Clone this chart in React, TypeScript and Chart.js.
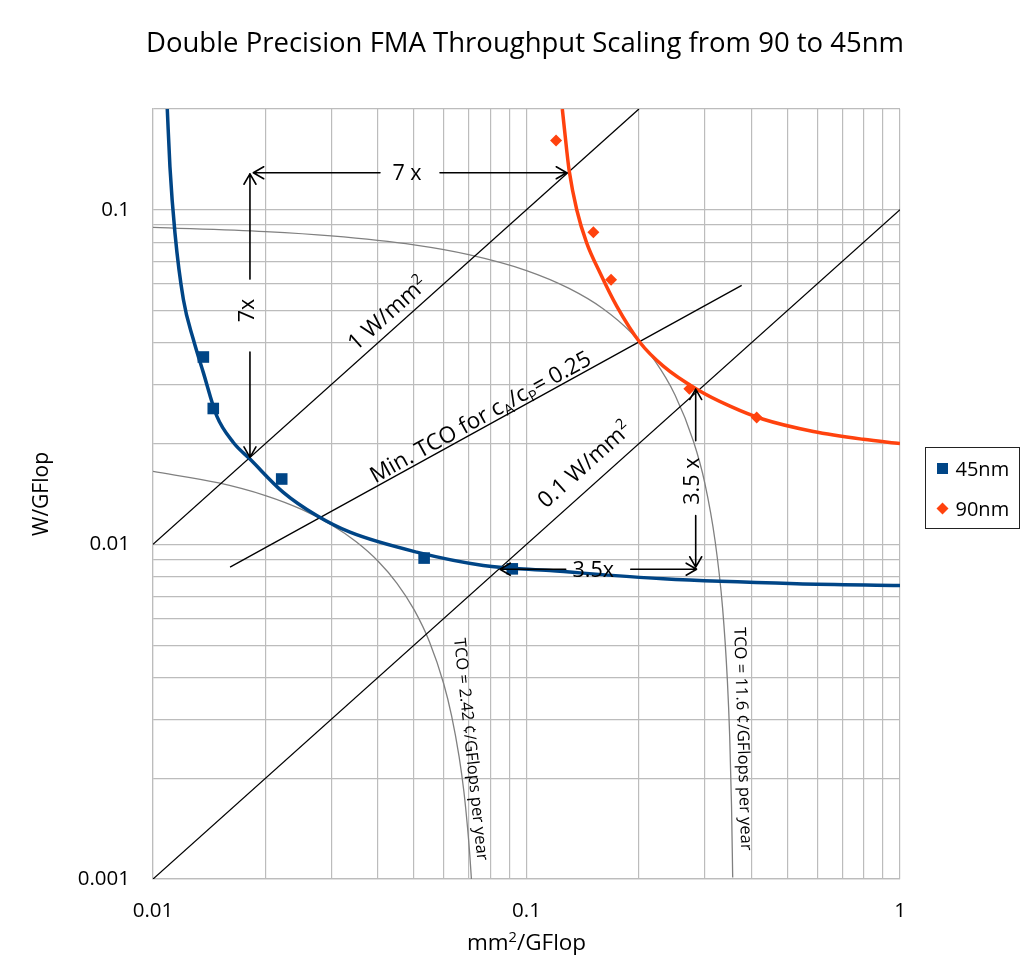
import React, { useEffect, useRef } from 'react';
import { Chart, registerables } from 'chart.js';

Chart.register(...registerables);

const FONT = '"Open Sans", sans-serif';
const BLUE = '#004586';
const ORANGE = '#ff420e';
const GRID = '#bcbcbc';
const GRAY = '#808080';

// Axis ranges, labelled ticks and minor grid steps (log axes)
const xRange = [0.01, 1];
const yRange = [0.001, 0.2];
const xTickValues = [0.01, 0.1, 1];
const xTickLabels = ['0.01', '0.1', '1'];
const yTickValues = [0.001, 0.01, 0.1];
const yTickLabels = ['0.001', '0.01', '0.1'];
const gridSteps = [1, 2, 3, 4, 5, 6, 7, 8, 9];

// Measured designs (mm^2/GFlop, W/GFlop)
const pts45X = [0.01364, 0.0145, 0.02211, 0.0532, 0.0916];
const pts45Y = [0.0363, 0.02547, 0.01568, 0.0091, 0.00845];
const pts90X = [0.12, 0.151, 0.1684, 0.2729, 0.4133];
const pts90Y = [0.1609, 0.0856, 0.0618, 0.0292, 0.02393];

// Pareto trend curves
const fit45X = [0.01092, 0.0111, 0.01145, 0.01206, 0.01282, 0.01364, 0.01481, 0.01641, 0.01818, 0.02233, 0.02743, 0.03368, 0.0508, 0.0766, 0.1156, 0.2324, 0.529, 1];
const fit45Y = [0.2, 0.1346, 0.0852, 0.0539, 0.041, 0.0326, 0.0242, 0.02016, 0.01799, 0.0143, 0.01219, 0.01087, 0.00948, 0.00865, 0.00835, 0.00789, 0.00763, 0.00754];
const fit90X = [0.1247, 0.1281, 0.1302, 0.1363, 0.1449, 0.1573, 0.1744, 0.2013, 0.2324, 0.2856, 0.3506, 0.4305, 0.5861, 0.7974, 1];
const fit90Y = [0.2, 0.151, 0.13, 0.1, 0.0796, 0.0648, 0.0515, 0.0401, 0.0341, 0.0291, 0.0259, 0.02366, 0.02175, 0.0206, 0.02];

// Iso-TCO curves
const tcoHighX = [0.01, 0.02, 0.03, 0.05, 0.07, 0.1, 0.13, 0.16, 0.19, 0.22, 0.25, 0.28, 0.3, 0.32, 0.335, 0.345, 0.35, 0.354, 0.3565];
const tcoHighY = [0.0886, 0.086, 0.0835, 0.0785, 0.0734, 0.0658, 0.0582, 0.0507, 0.0431, 0.0355, 0.0279, 0.0203, 0.0153, 0.0102, 0.00645, 0.00392, 0.00266, 0.00164, 0.00101];
const tcoLowX = [0.01, 0.015, 0.02, 0.025, 0.03, 0.035, 0.04, 0.045, 0.05, 0.055, 0.06, 0.063, 0.066, 0.068, 0.0695, 0.0705, 0.0712];
const tcoLowY = [0.01652, 0.01526, 0.01399, 0.01272, 0.01145, 0.01018, 0.00892, 0.00765, 0.00638, 0.00511, 0.00384, 0.00308, 0.00232, 0.00182, 0.00143, 0.00118, 0.001];

// Power-density and minimum-TCO lines
const w1X = [0.01, 0.2];
const w1Y = [0.01, 0.2];
const w01X = [0.01, 1];
const w01Y = [0.001, 0.1];
const minTcoX = [0.01608, 0.3768];
const minTcoY = [0.00855, 0.0594];

// Ratio arrows: endpoints in data units
const arrows = [
  { from: [0.01856, 0.129], to: [0.1281, 0.129], label: '7 x', gap: 60, vertical: false, dx: -3, dy: 0 },
  { from: [0.01818, 0.0182], to: [0.01818, 0.128], label: '7x', gap: 73, vertical: true, dx: -4, dy: -5 },
  { from: [0.0849, 0.00843], to: [0.2853, 0.00843], label: '3.5x', gap: 65, vertical: false, dx: -5, dy: 0 },
  { from: [0.2838, 0.00855], to: [0.2838, 0.0291], label: '3.5 x', gap: 75, vertical: true, dx: -4, dy: 3 },
];

type Part = { t: string; sub?: boolean; sup?: boolean };

// Text placed along the lines: centre in data units, angle in degrees
const lineLabels: { parts: Part[]; x: number; y: number; angle: number; size: number }[] = [
  { parts: [{ t: '1 W/mm' }, { t: '2', sup: true }], x: 0.0423, y: 0.0492, angle: -41.9, size: 22.5 },
  { parts: [{ t: 'Min. TCO for c' }, { t: 'A', sub: true }, { t: '/c' }, { t: 'P', sub: true }, { t: '= 0.25' }], x: 0.0751, y: 0.02415, angle: -28.9, size: 22.5 },
  { parts: [{ t: '0.1 W/mm' }, { t: '2', sup: true }], x: 0.1426, y: 0.01738, angle: -41.9, size: 22.5 },
  { parts: [{ t: 'TCO = 2.42 ¢/GFlops per year' }], x: 0.0713, y: 0.002444, angle: 84, size: 16.5 },
  { parts: [{ t: 'TCO = 11.6 ¢/GFlops per year' }], x: 0.3815, y: 0.002623, angle: 88.2, size: 16.5 },
];

const title = 'Double Precision FMA Throughput Scaling from 90 to 45nm';
const yTitle = 'W/GFlop';
const xTitleParts: Part[] = [{ t: 'mm' }, { t: '2', sup: true }, { t: '/GFlop' }];
const legendItems = [
  { label: '45nm', color: BLUE, shape: 'square' },
  { label: '90nm', color: ORANGE, shape: 'diamond' },
];

const toPts = (xs: number[], ys: number[]) => xs.map((x, i) => ({ x, y: ys[i] }));

function logGrid(min: number, max: number) {
  const out: number[] = [];
  for (let e = Math.floor(Math.log10(min)); e <= Math.ceil(Math.log10(max)); e++) {
    for (const s of gridSteps) {
      const v = parseFloat((s * Math.pow(10, e)).toPrecision(6));
      if (v >= min * 0.9999 && v <= max * 1.0001) out.push(v);
    }
  }
  if (out[out.length - 1] < max * 0.9999) out.push(max);
  return out;
}

function labelFor(values: number[], labels: string[]) {
  return (v: any) => {
    const i = values.findIndex((t) => Math.abs(t - Number(v)) / t < 1e-6);
    return i >= 0 ? labels[i] : '';
  };
}

function drawRich(ctx: CanvasRenderingContext2D, parts: Part[], cx: number, cy: number, angleDeg: number, size: number) {
  ctx.save();
  ctx.translate(cx, cy);
  ctx.rotate((angleDeg * Math.PI) / 180);
  ctx.fillStyle = '#000';
  ctx.textBaseline = 'alphabetic';
  ctx.textAlign = 'left';
  const small = size * 0.65;
  let total = 0;
  const widths = parts.map((p) => {
    ctx.font = `${p.sub || p.sup ? small : size}px ${FONT}`;
    const w = ctx.measureText(p.t).width;
    total += w;
    return w;
  });
  let x = -total / 2;
  const base = size * 0.36;
  parts.forEach((p, i) => {
    ctx.font = `${p.sub || p.sup ? small : size}px ${FONT}`;
    const off = p.sup ? -size * 0.38 : p.sub ? size * 0.2 : 0;
    ctx.fillText(p.t, x, base + off);
    x += widths[i];
  });
  ctx.restore();
}

function arrowHead(ctx: CanvasRenderingContext2D, tx: number, ty: number, ux: number, uy: number) {
  const L = 12;
  const back = Math.atan2(uy, ux) + Math.PI;
  for (const s of [-1, 1]) {
    const a = back + (s * Math.PI) / 6;
    ctx.moveTo(tx, ty);
    ctx.lineTo(tx + L * Math.cos(a), ty + L * Math.sin(a));
  }
}

const overlayPlugin = {
  id: 'overlay',
  afterDatasetsDraw(chart: any) {
    const { ctx, scales } = chart;
    const px = (v: number) => scales.x.getPixelForValue(v);
    const py = (v: number) => scales.y.getPixelForValue(v);

    for (const lab of lineLabels) {
      drawRich(ctx, lab.parts, px(lab.x), py(lab.y), lab.angle, lab.size);
    }

    ctx.save();
    ctx.strokeStyle = '#000';
    ctx.lineWidth = 1.6;
    ctx.lineCap = 'round';
    for (const a of arrows) {
      const x0 = px(a.from[0]), y0 = py(a.from[1]);
      const x1 = px(a.to[0]), y1 = py(a.to[1]);
      const dx = x1 - x0, dy = y1 - y0;
      const len = Math.hypot(dx, dy);
      const ux = dx / len, uy = dy / len;
      const mx = (x0 + x1) / 2, my = (y0 + y1) / 2;
      ctx.beginPath();
      ctx.moveTo(x0, y0);
      ctx.lineTo(mx - (ux * a.gap) / 2, my - (uy * a.gap) / 2);
      ctx.moveTo(mx + (ux * a.gap) / 2, my + (uy * a.gap) / 2);
      ctx.lineTo(x1, y1);
      arrowHead(ctx, x0, y0, -ux, -uy);
      arrowHead(ctx, x1, y1, ux, uy);
      ctx.stroke();
      drawRich(ctx, [{ t: a.label }], mx + a.dx, my + a.dy, a.vertical ? -90 : 0, 21.5);
    }
    ctx.restore();
  },
  afterDraw(chart: any) {
    const { ctx, chartArea } = chart;
    ctx.save();
    // chart title
    ctx.fillStyle = '#000';
    ctx.font = `27.5px ${FONT}`;
    ctx.textAlign = 'center';
    ctx.textBaseline = 'alphabetic';
    ctx.fillText(title, 525, 52);
    // axis titles
    ctx.save();
    ctx.translate(42, (chartArea.top + chartArea.bottom) / 2);
    ctx.rotate(-Math.PI / 2);
    ctx.font = `21px ${FONT}`;
    ctx.textBaseline = 'middle';
    ctx.fillText(yTitle, 0, 0);
    ctx.restore();
    drawRich(ctx, xTitleParts, (chartArea.left + chartArea.right) / 2, 942, 0, 22.5);

    // legend
    const lx = chartArea.right + 25.5;
    const ly = 447.5;
    ctx.strokeStyle = '#222';
    ctx.lineWidth = 1;
    ctx.strokeRect(lx, ly, 94, 81);
    legendItems.forEach((it, i) => {
      const cy = ly + 21 + i * 40;
      const mx = lx + 17;
      ctx.fillStyle = it.color;
      ctx.beginPath();
      if (it.shape === 'square') {
        ctx.rect(mx - 5.5, cy - 5.5, 11, 11);
      } else {
        ctx.moveTo(mx, cy - 6);
        ctx.lineTo(mx + 6, cy);
        ctx.lineTo(mx, cy + 6);
        ctx.lineTo(mx - 6, cy);
        ctx.closePath();
      }
      ctx.fill();
      ctx.fillStyle = '#000';
      ctx.font = `20px ${FONT}`;
      ctx.textAlign = 'left';
      ctx.textBaseline = 'alphabetic';
      ctx.fillText(it.label, lx + 30, cy + 7);
    });
    ctx.restore();
  },
};

export default function App() {
  const canvasRef = useRef<HTMLCanvasElement | null>(null);

  useEffect(() => {
    if (!canvasRef.current) return;
    const lineSet = (label: string, xs: number[], ys: number[], color: string, width: number, order: number, smooth: boolean) => ({
      label,
      data: toPts(xs, ys),
      showLine: true,
      borderColor: color,
      backgroundColor: color,
      borderWidth: width,
      pointRadius: 0,
      pointHoverRadius: 0,
      cubicInterpolationMode: smooth ? 'monotone' : 'default',
      tension: 0,
      clip: 0,
      order,
    });

    const chart = new Chart(canvasRef.current, {
      type: 'scatter',
      data: {
        datasets: [
          {
            label: '45nm',
            data: toPts(pts45X, pts45Y),
            showLine: false,
            pointStyle: 'rect',
            pointRadius: 8.2,
            pointBorderWidth: 0,
            pointBackgroundColor: BLUE,
            backgroundColor: BLUE,
            borderColor: BLUE,
            order: 0,
          },
          {
            label: '90nm',
            data: toPts(pts90X, pts90Y),
            showLine: false,
            pointStyle: 'rectRot',
            pointRadius: 6,
            pointBorderWidth: 0,
            pointBackgroundColor: ORANGE,
            backgroundColor: ORANGE,
            borderColor: ORANGE,
            order: 1,
          },
          lineSet('45nm trend', fit45X, fit45Y, BLUE, 3.5, 2, true),
          lineSet('90nm trend', fit90X, fit90Y, ORANGE, 3.5, 3, true),
          lineSet('1 W/mm2', w1X, w1Y, '#000', 1.3, 4, false),
          lineSet('0.1 W/mm2', w01X, w01Y, '#000', 1.3, 5, false),
          lineSet('Min. TCO', minTcoX, minTcoY, '#000', 1.3, 6, false),
          lineSet('TCO 11.6', tcoHighX, tcoHighY, GRAY, 1.3, 7, true),
          lineSet('TCO 2.42', tcoLowX, tcoLowY, GRAY, 1.3, 8, true),
        ] as any,
      },
      options: {
        responsive: false,
        animation: false,
        events: [],
        layout: { padding: { left: 0, top: 109, right: 131, bottom: 0 } },
        plugins: {
          legend: { display: false },
          tooltip: { enabled: false },
          title: { display: false },
        },
        scales: {
          x: {
            type: 'logarithmic',
            min: xRange[0],
            max: xRange[1],
            afterBuildTicks: (scale: any) => {
              scale.ticks = logGrid(xRange[0], xRange[1]).map((v) => ({ value: v }));
            },
            afterFit: (scale: any) => {
              scale.height = 90;
            },
            grid: { color: GRID, lineWidth: 1.2, drawTicks: false },
            border: { display: true, color: GRID, width: 1.2 },
            ticks: {
              autoSkip: false,
              maxRotation: 0,
              padding: 20,
              color: '#000',
              font: { family: FONT, size: 20.5 },
              callback: labelFor(xTickValues, xTickLabels),
            },
          },
          y: {
            type: 'logarithmic',
            min: yRange[0],
            max: yRange[1],
            afterBuildTicks: (scale: any) => {
              scale.ticks = logGrid(yRange[0], yRange[1]).map((v) => ({ value: v }));
            },
            afterFit: (scale: any) => {
              scale.width = 153;
            },
            grid: { color: GRID, lineWidth: 1.2, drawTicks: false },
            border: { display: true, color: GRID, width: 1.2 },
            ticks: {
              autoSkip: false,
              padding: 23,
              color: '#000',
              font: { family: FONT, size: 20.5 },
              callback: labelFor(yTickValues, yTickLabels),
            },
          },
        },
      } as any,
      plugins: [overlayPlugin],
    });
    return () => chart.destroy();
  }, []);

  return (
    <div style={{ position: 'absolute', left: 0, top: 0, width: 1031, height: 969, background: '#fff' }}>
      <canvas ref={canvasRef} width={1031} height={969} style={{ display: 'block' }} />
    </div>
  );
}
